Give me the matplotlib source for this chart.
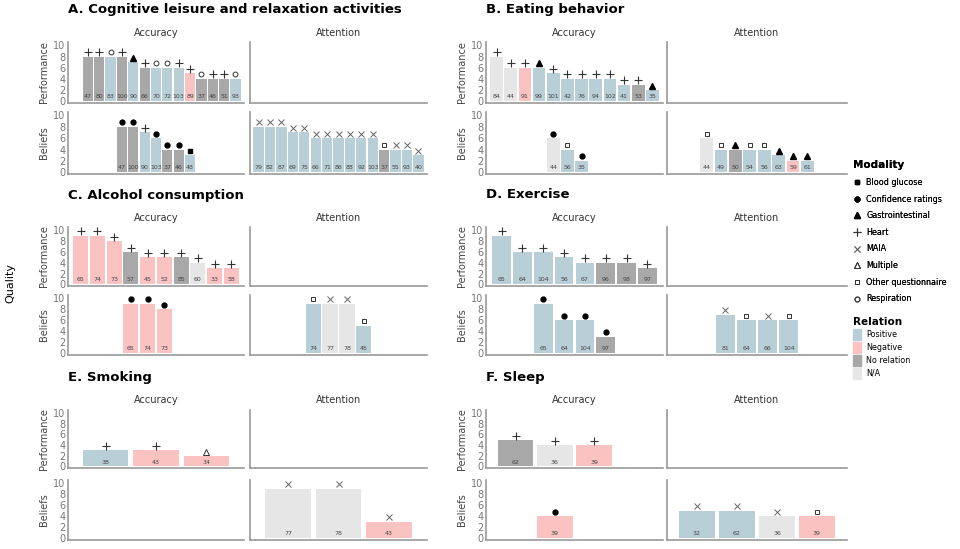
import matplotlib
matplotlib.use("Agg")
import matplotlib.pyplot as plt
from matplotlib.lines import Line2D
from matplotlib.patches import Patch

W, H = 960, 549

# ---- data: (heights, study ids, relation codes, modality codes, start slot)
# relation: P positive, N negative, R no relation, A N/A
# modality: G blood glucose, C confidence, I gastro, H heart, M MAIA, U multiple, Q other quest., S respiration
A_acc_perf = ([8, 8, 8, 8, 7, 6, 6, 6, 6, 5, 4, 4, 4, 4],
              [47, 80, 83, 100, 90, 66, 70, 72, 103, 89, 37, 46, 51, 93],
              "RRPRPRPPPNRRRP", "HHSHIHSSHHSHHS", 1)
A_acc_bel = ([8, 8, 7, 6, 4, 4, 3], [47, 100, 90, 103, 37, 46, 48], "RRPPRRP", "CCHCCCG", 4)
A_att_bel = ([8, 8, 8, 7, 7, 6, 6, 6, 6, 6, 6, 4, 4, 4, 3],
             [79, 82, 87, 69, 75, 66, 71, 86, 88, 92, 103, 37, 55, 93, 40],
             "PPPPPPPPPPPRPPP", "MMMMMMMMMMMQMMM", 0)
B_acc_perf = ([8, 6, 6, 6, 5, 4, 4, 4, 4, 3, 3, 2],
              [84, 44, 91, 99, 101, 42, 76, 94, 102, 41, 53, 35],
              "AANPPPPPPPRP", "HHHIHHHHHHHI", 0)
B_acc_bel = ([6, 4, 2], [44, 56, 35], "APP", "CQC", 4)
B_att_bel = ([6, 4, 4, 4, 4, 3, 2, 2], [44, 49, 50, 54, 56, 63, 59, 61], "APRPPPNP", "QQIQQIII", 2)
C_acc_perf = ([9, 9, 8, 6, 5, 5, 5, 4, 3, 3], [65, 74, 73, 57, 45, 52, 85, 60, 33, 58],
              "NNNRNNRANN", "HHHHHHHHHH", 0)
C_acc_bel = ([9, 9, 8], [65, 74, 73], "NNN", "CCC", 3)
C_att_bel = ([9, 9, 9, 5], [74, 77, 78, 45], "PAAP", "QMMQ", 3)
D_acc_perf = ([9, 6, 6, 5, 4, 4, 4, 3], [65, 64, 104, 56, 67, 96, 98, 97], "PPPPPRRR", "HHHHHHHH", 0)
D_acc_bel = ([9, 6, 6, 3], [65, 64, 104, 97], "PPPR", "CCCC", 2)
D_att_bel = ([7, 6, 6, 6], [81, 64, 66, 104], "PPPP", "MQMQ", 2)
E_acc_perf = ([3, 3, 2], [38, 43, 34], "PNN", "HHU", 0)
E_att_bel = ([9, 9, 3], [77, 78, 43], "AAN", "MMM", 0)
F_acc_perf = ([5, 4, 4], [62, 36, 39], "RAN", "HHH", 0)
F_acc_bel = ([4], [39], "N", "C", 1)
F_att_bel = ([5, 5, 4, 4], [32, 62, 36, 39], "PPAN", "MMMQ", 0)

panels = [
    ("A. Cognitive leisure and relaxation activities", 15, A_acc_perf, None, A_acc_bel, A_att_bel),
    ("B. Eating behavior", 12, B_acc_perf, None, B_acc_bel, B_att_bel),
    ("C. Alcohol consumption", 10, C_acc_perf, None, C_acc_bel, C_att_bel),
    ("D. Exercise", 8, D_acc_perf, None, D_acc_bel, D_att_bel),
    ("E. Smoking", 3, E_acc_perf, None, None, E_att_bel),
    ("F. Sleep", 4, F_acc_perf, None, F_acc_bel, F_att_bel),
]

rel_colors = {"P": "#b9cfd8", "N": "#fbc2c2", "R": "#a8a8a8", "A": "#e6e6e6"}
rel_names = [("P", "Positive"), ("N", "Negative"), ("R", "No relation"), ("A", "N/A")]
mod_style = {
    "G": dict(marker="s", mfc="black", mec="black", ms=3.5),
    "C": dict(marker="o", mfc="black", mec="black", ms=3.5),
    "I": dict(marker="^", mfc="black", mec="black", ms=4),
    "H": dict(marker="+", mfc="none", mec="#333333", ms=6, mew=0.8),
    "M": dict(marker="x", mfc="none", mec="#666666", ms=4.5, mew=0.7),
    "U": dict(marker="^", mfc="none", mec="#333333", ms=4.5, mew=0.7),
    "Q": dict(marker="s", mfc="none", mec="#333333", ms=3.5, mew=0.7),
    "S": dict(marker="o", mfc="none", mec="#333333", ms=3.5, mew=0.7),
}
mod_names = [("G", "Blood glucose"), ("C", "Confidence ratings"), ("I", "Gastrointestinal"),
             ("H", "Heart"), ("M", "MAIA"), ("U", "Multiple"),
             ("Q", "Other questionnaire"), ("S", "Respiration")]

fig = plt.figure(figsize=(W / 100, H / 100), dpi=100)


def px_axes(x0, y0, x1, y1):
    return fig.add_axes([x0 / W, 1 - y1 / H, (x1 - x0) / W, (y1 - y0) / H])


def draw(ax, data, nslots):
    ax.set_xlim(-0.75, nslots - 0.25)
    ax.set_ylim(-0.3, 10.6)
    ax.set_yticks([0, 2, 4, 6, 8, 10])
    ax.set_xticks([])
    for s in ["top", "right"]:
        ax.spines[s].set_visible(False)
    for s in ["left", "bottom"]:
        ax.spines[s].set_color("#999999")
        ax.spines[s].set_linewidth(1.2)
    ax.tick_params(axis="y", length=0, labelsize=7, colors="#777777", pad=2)
    if data is None:
        return
    hs, ids, rels, mods, start = data
    xs = [start + i for i in range(len(hs))]
    ax.bar(xs, hs, width=0.9, color=[rel_colors[r] for r in rels], bottom=0)
    for x, h, n, m in zip(xs, hs, ids, mods):
        ax.text(x, 0.35, str(n), ha="center", va="bottom", fontsize=4.5, color="#444444")
        ax.plot([x], [h + 0.8], linestyle="none", **mod_style[m])


col_x = [(68, 244, 250, 427), (486, 663, 667, 847)]
row_y = [(10, 33, 42, 103, 112, 174), (195, 218, 227, 286, 295, 355),
         (377, 400, 410, 468, 480, 540)]

for k, (title, nslots, acc_p, att_p, acc_b, att_b) in enumerate(panels):
    r, c = divmod(k, 2)
    ax0, ax1, bx0, bx1 = col_x[c]
    ty, sy, p0, p1, b0, b1 = row_y[r]
    fig.text(ax0 / W, 1 - ty / H, title, fontsize=9.5, fontweight="bold", va="center")
    fig.text((ax0 + ax1) / 2 / W, 1 - sy / H, "Accuracy", fontsize=7, color="#333333", ha="center", va="center")
    fig.text((bx0 + bx1) / 2 / W, 1 - sy / H, "Attention", fontsize=7, color="#333333", ha="center", va="center")
    a = px_axes(ax0, p0, ax1, p1); draw(a, acc_p, nslots)
    a.set_ylabel("Performance", fontsize=7, color="#444444", labelpad=3)
    a = px_axes(bx0, p0, bx1, p1); draw(a, att_p, nslots); a.set_yticklabels([])
    a = px_axes(ax0, b0, ax1, b1); draw(a, acc_b, nslots)
    a.set_ylabel("Beliefs", fontsize=7, color="#444444", labelpad=3)
    a = px_axes(bx0, b0, bx1, b1); draw(a, att_b, nslots); a.set_yticklabels([])

fig.text(10 / W, 1 - 283 / H, "Quality", rotation=90, fontsize=8, va="center", ha="center")

mod_handles = [Line2D([], [], linestyle="none", **mod_style[k]) for k, _ in mod_names]
leg1 = fig.legend(mod_handles, [n for _, n in mod_names], title="Modality", loc="upper left",
                  bbox_to_anchor=(850 / W, 1 - 157 / H), frameon=False, fontsize=5.8,
                  title_fontproperties={"weight": "bold", "size": 7.5}, handlelength=1.0,
                  handletextpad=0.6, labelspacing=0.95, alignment="left", borderaxespad=0)
rel_handles = [Patch(color=rel_colors[k]) for k, _ in rel_names]
fig.legend(rel_handles, [n for _, n in rel_names], title="Relation", loc="upper left",
           bbox_to_anchor=(850 / W, 1 - 314 / H), frameon=False, fontsize=5.8,
           title_fontproperties={"weight": "bold", "size": 7.5}, handlelength=1.0, handleheight=1.7,
           handletextpad=0.6, labelspacing=0.25, alignment="left", borderaxespad=0)
fig.add_artist(leg1)

fig.savefig("out.png", dpi=100)
